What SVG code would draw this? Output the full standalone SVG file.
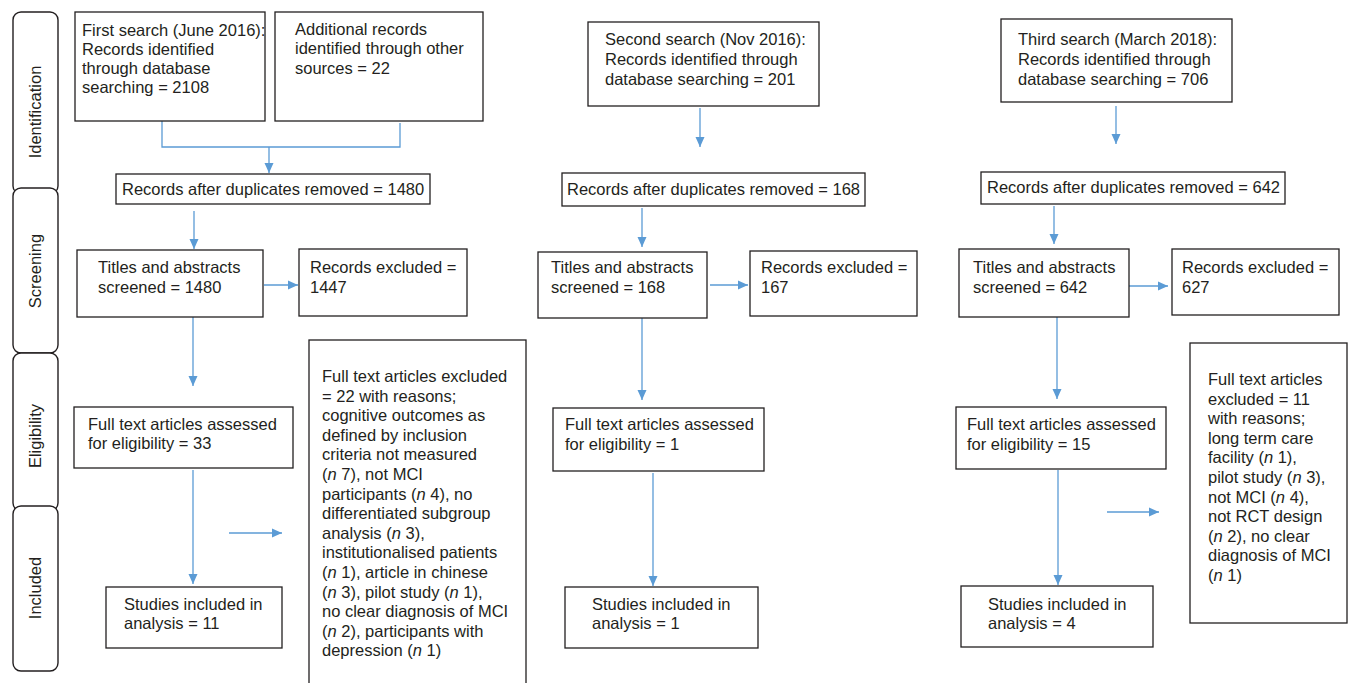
<svg xmlns="http://www.w3.org/2000/svg" width="1348" height="683" viewBox="0 0 1348 683">
<defs>
<marker id="ah" markerUnits="userSpaceOnUse" markerWidth="10" markerHeight="10" viewBox="0 0 10 10" refX="10" refY="5" orient="auto">
<path d="M0,0.5 L10,5 L0,9.5 z" fill="#5b9bd5"/>
</marker>
<style>
.box{fill:#fff;stroke:#231f20;stroke-width:1.3}
.phase{fill:#fff;stroke:#231f20;stroke-width:1.4}
.t{font-family:"Liberation Sans",Arial,sans-serif;font-size:16.5px;fill:#231f20}
.c{fill:none;stroke:#5b9bd5;stroke-width:1.3}
.a{marker-end:url(#ah)}
.i{font-style:italic}
</style>
</defs>
<rect width="1348" height="683" fill="#fff"/>

<g id="phases">
<g id="phase-identification"><rect class="phase" x="13" y="12" width="45" height="182" rx="8"/><text class="t" transform="translate(41,112) rotate(-90)" text-anchor="middle">Identification</text></g>
<g id="phase-screening"><rect class="phase" x="13" y="188" width="45" height="165" rx="8"/><text class="t" transform="translate(41,271) rotate(-90)" text-anchor="middle">Screening</text></g>
<g id="phase-eligibility"><rect class="phase" x="13" y="353" width="45" height="158" rx="8"/><text class="t" transform="translate(41,436) rotate(-90)" text-anchor="middle">Eligibility</text></g>
<g id="phase-included"><rect class="phase" x="13" y="506" width="45" height="165" rx="8"/><text class="t" transform="translate(41,588) rotate(-90)" text-anchor="middle">Included</text></g>
</g>

<g id="connectors">
<path class="c" d="M162,121 V147 H400 V123"/>
<path class="c a" d="M269,147 V173"/>
<path class="c a" d="M194,211 V249"/>
<path class="c a" d="M264,285 H298"/>
<path class="c a" d="M193,317 V386"/>
<path class="c a" d="M193,470 V584"/>
<path class="c a" d="M229,533 H282"/>

<path class="c a" d="M700,108 V147"/>
<path class="c a" d="M642,208 V247"/>
<path class="c a" d="M710,285 H748"/>
<path class="c a" d="M642,318 V400"/>
<path class="c a" d="M653,473 V586"/>

<path class="c a" d="M1116,106 V144"/>
<path class="c a" d="M1054,206 V244"/>
<path class="c a" d="M1129,286 H1168"/>
<path class="c a" d="M1057,317 V399"/>
<path class="c a" d="M1058,470 V585"/>
<path class="c a" d="M1107,512 H1159"/>
</g>

<g id="first-search"><rect class="box" x="75" y="12" width="190" height="109"/>
<text class="t" x="82" y="36">First search (June 2016):</text>
<text class="t" x="82" y="55">Records identified</text>
<text class="t" x="82" y="74">through database</text>
<text class="t" x="82" y="93">searching = 2108</text></g>

<g id="additional-records"><rect class="box" x="275" y="12" width="208" height="109"/>
<text class="t" x="295" y="35">Additional records</text>
<text class="t" x="295" y="54">identified through other</text>
<text class="t" x="295" y="74">sources = 22</text></g>

<g id="dup1"><rect class="box" x="116" y="174" width="314" height="30"/>
<text class="t" x="122" y="195">Records after duplicates removed = 1480</text></g>

<g id="titles1"><rect class="box" x="77" y="250" width="186" height="67"/>
<text class="t" x="98" y="273">Titles and abstracts</text>
<text class="t" x="98" y="293">screened = 1480</text></g>

<g id="excluded1"><rect class="box" x="299" y="249" width="168" height="67"/>
<text class="t" x="310" y="273">Records excluded =</text>
<text class="t" x="310" y="293">1447</text></g>

<g id="fulltext1"><rect class="box" x="74" y="407" width="219" height="61"/>
<text class="t" x="88" y="430">Full text articles assessed</text>
<text class="t" x="88" y="449">for eligibility = 33</text></g>

<g id="included1"><rect class="box" x="106" y="587" width="176" height="61"/>
<text class="t" x="124" y="610">Studies included in</text>
<text class="t" x="124" y="629">analysis = 11</text></g>

<g id="ftexcluded1"><rect class="box" x="309" y="340" width="217" height="360"/>
<text class="t" x="322" y="382">Full text articles excluded</text>
<text class="t" x="322" y="401.6">= 22 with reasons;</text>
<text class="t" x="322" y="421.2">cognitive outcomes as</text>
<text class="t" x="322" y="440.8">defined by inclusion</text>
<text class="t" x="322" y="460.4">criteria not measured</text>
<text class="t" x="322" y="480">(<tspan class="i">n</tspan> 7), not MCI</text>
<text class="t" x="322" y="499.6">participants (<tspan class="i">n</tspan> 4), no</text>
<text class="t" x="322" y="519.2">differentiated subgroup</text>
<text class="t" x="322" y="538.8">analysis (<tspan class="i">n</tspan> 3),</text>
<text class="t" x="322" y="558.4">institutionalised patients</text>
<text class="t" x="322" y="578">(<tspan class="i">n</tspan> 1), article in chinese</text>
<text class="t" x="322" y="597.6">(<tspan class="i">n</tspan> 3), pilot study (<tspan class="i">n</tspan> 1),</text>
<text class="t" x="322" y="617.2">no clear diagnosis of MCI</text>
<text class="t" x="322" y="636.8">(<tspan class="i">n</tspan> 2), participants with</text>
<text class="t" x="322" y="656.4">depression (<tspan class="i">n</tspan> 1)</text></g>

<g id="second-search"><rect class="box" x="588" y="22" width="231" height="84"/>
<text class="t" x="605" y="45">Second search (Nov 2016):</text>
<text class="t" x="605" y="65">Records identified through</text>
<text class="t" x="605" y="85">database searching = 201</text></g>

<g id="dup2"><rect class="box" x="562" y="173" width="303" height="33"/>
<text class="t" x="567" y="195">Records after duplicates removed = 168</text></g>

<g id="titles2"><rect class="box" x="538" y="252" width="169" height="66"/>
<text class="t" x="551" y="273">Titles and abstracts</text>
<text class="t" x="551" y="293">screened = 168</text></g>

<g id="excluded2"><rect class="box" x="750" y="251" width="167" height="65"/>
<text class="t" x="761" y="273">Records excluded =</text>
<text class="t" x="761" y="293">167</text></g>

<g id="fulltext2"><rect class="box" x="553" y="408" width="211" height="63"/>
<text class="t" x="565" y="430">Full text articles assessed</text>
<text class="t" x="565" y="450">for eligibility = 1</text></g>

<g id="included2"><rect class="box" x="565" y="587" width="193" height="61"/>
<text class="t" x="592" y="610">Studies included in</text>
<text class="t" x="592" y="629">analysis = 1</text></g>

<g id="third-search"><rect class="box" x="1001" y="19" width="231" height="83"/>
<text class="t" x="1018" y="45">Third search (March 2018):</text>
<text class="t" x="1018" y="65">Records identified through</text>
<text class="t" x="1018" y="85">database searching = 706</text></g>

<g id="dup3"><rect class="box" x="981" y="172" width="304" height="32"/>
<text class="t" x="987" y="193">Records after duplicates removed = 642</text></g>

<g id="titles3"><rect class="box" x="959" y="249" width="170" height="68"/>
<text class="t" x="973" y="273">Titles and abstracts</text>
<text class="t" x="973" y="293">screened = 642</text></g>

<g id="excluded3"><rect class="box" x="1172" y="249" width="167" height="66"/>
<text class="t" x="1182" y="273">Records excluded =</text>
<text class="t" x="1182" y="293">627</text></g>

<g id="fulltext3"><rect class="box" x="956" y="407" width="210" height="62"/>
<text class="t" x="967" y="430">Full text articles assessed</text>
<text class="t" x="967" y="450">for eligibility = 15</text></g>

<g id="included3"><rect class="box" x="961" y="586" width="192" height="61"/>
<text class="t" x="988" y="610">Studies included in</text>
<text class="t" x="988" y="629">analysis = 4</text></g>

<g id="ftexcluded3"><rect class="box" x="1190" y="343" width="157" height="280"/>
<text class="t" x="1208" y="385">Full text articles</text>
<text class="t" x="1208" y="404.6">excluded = 11</text>
<text class="t" x="1208" y="424.2">with reasons;</text>
<text class="t" x="1208" y="443.8">long term care</text>
<text class="t" x="1208" y="463.4">facility (<tspan class="i">n</tspan> 1),</text>
<text class="t" x="1208" y="483">pilot study (<tspan class="i">n</tspan> 3),</text>
<text class="t" x="1208" y="502.6">not MCI (<tspan class="i">n</tspan> 4),</text>
<text class="t" x="1208" y="522.2">not RCT design</text>
<text class="t" x="1208" y="541.8">(<tspan class="i">n</tspan> 2), no clear</text>
<text class="t" x="1208" y="561.4">diagnosis of MCI</text>
<text class="t" x="1208" y="581">(<tspan class="i">n</tspan> 1)</text></g>
</svg>
